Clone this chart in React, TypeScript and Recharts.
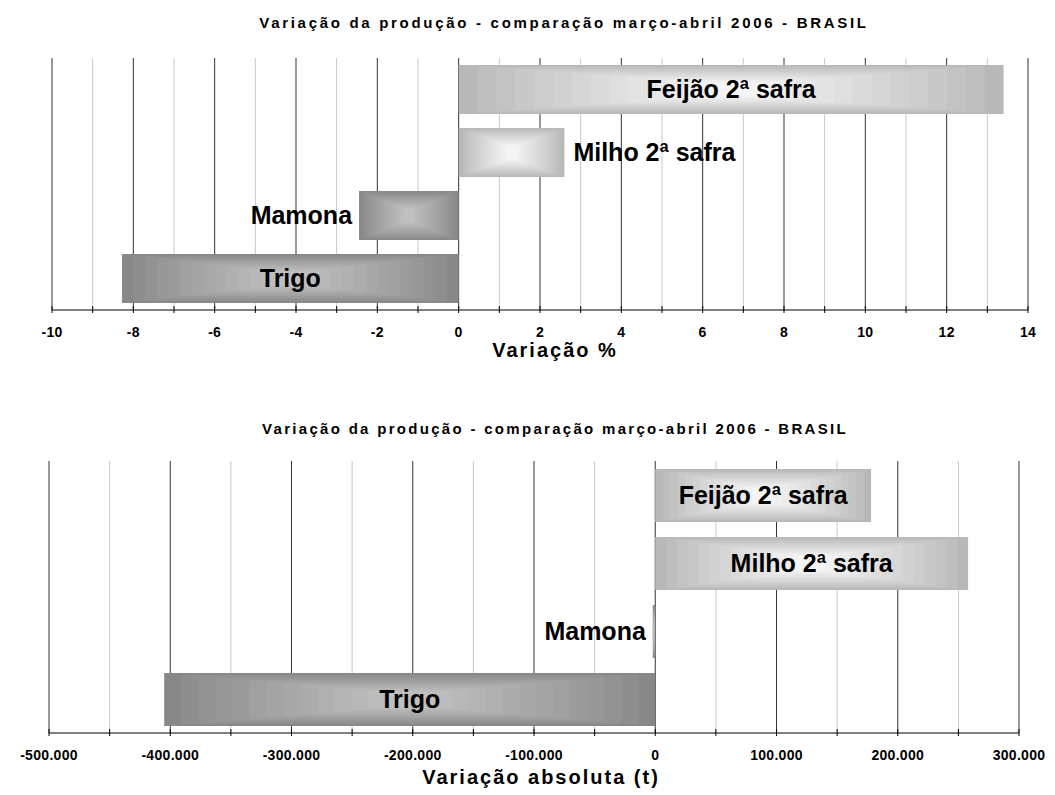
import React from 'react';
import { BarChart, Bar, XAxis, YAxis, ReferenceLine, LabelList } from 'recharts';

const categories = ['Feijão 2ª safra', 'Milho 2ª safra', 'Mamona', 'Trigo'];
const pctValues = [13.4, 2.6, -2.45, -8.28];
const absValues = [178000, 258000, -2000, -405000];

const pctTicks = [-10, -9, -8, -7, -6, -5, -4, -3, -2, -1, 0, 1, 2, 3, 4, 5, 6, 7, 8, 9, 10, 11, 12, 13, 14];
const pctMajor = [-10, -8, -6, -4, -2, 0, 2, 4, 6, 8, 10, 12, 14];
const absTicks = [-500000, -450000, -400000, -350000, -300000, -250000, -200000, -150000, -100000, -50000, 0, 50000, 100000, 150000, 200000, 250000, 300000];
const absMajor = [-500000, -400000, -300000, -200000, -100000, 0, 100000, 200000, 300000];

const title1 = 'Variação da produção - comparação março-abril 2006 - BRASIL';
const title2 = 'Variação da produção - comparação março-abril 2006 - BRASIL';
const axisTitle1 = 'Variação %';
const axisTitle2 = 'Variação absoluta (t)';

const FONT = '"Liberation Sans", Arial, sans-serif';
const LABEL_FONT_SIZE = 25;

let measureCtx: CanvasRenderingContext2D | null = null;
function measureText(text: string, font: string): number {
  if (!measureCtx) {
    const c = document.createElement('canvas');
    measureCtx = c.getContext('2d');
  }
  if (!measureCtx) return text.length * 12;
  measureCtx.font = font;
  return measureCtx.measureText(text).width;
}

function mix(a: number[], b: number[], t: number): string {
  const c = a.map((v, i) => Math.round(v + (b[i] - v) * t));
  return `rgb(${c[0]},${c[1]},${c[2]})`;
}

const GradientBar = (props: any) => {
  const { x, y, width, height, value, payload } = props;
  if (x == null || width == null) return null;
  const left = Math.min(x, x + width);
  const w = Math.abs(width);
  const top = Math.min(y, y + height);
  const h = Math.abs(height);
  const v = payload && typeof payload.value === 'number' ? payload.value : (Array.isArray(value) ? value[1] - value[0] : value);
  const neg = v < 0;
  const edge = neg ? [136, 136, 136] : [184, 184, 184];
  const center = neg ? [192, 192, 192] : [244, 244, 244];
  const N = 14;
  const rects = [];
  for (let i = 0; i < N; i++) {
    const t = i / (N - 1);
    const dx = t * (w / 2) * 0.9;
    const dy = t * (h / 2) * 0.72;
    rects.push(
      <rect key={i} x={left + dx} y={top + dy} width={Math.max(w - 2 * dx, 0)} height={Math.max(h - 2 * dy, 0)} fill={mix(edge, center, Math.pow(t, 0.9))} />
    );
  }
  return <g>{rects}</g>;
};

const makeLabel = (values: number[]) => (props: any) => {
  const vb = props.viewBox || {};
  const x = props.x ?? vb.x;
  const y = props.y ?? vb.y;
  const width = props.width ?? vb.width;
  const height = props.height ?? vb.height;
  const idx = props.index;
  const text = String(props.value);
  if (x == null || width == null) return null;
  const left = Math.min(x, x + width);
  const w = Math.abs(width);
  const top = Math.min(y, y + height);
  const h = Math.abs(height);
  const cy = top + h / 2;
  const tw = measureText(text, `bold ${LABEL_FONT_SIZE}px ${FONT}`);
  const v = values[idx];
  let tx = left + w / 2;
  let anchor: 'middle' | 'start' | 'end' = 'middle';
  if (w < tw + 24) {
    if (v >= 0) {
      tx = left + w + 9;
      anchor = 'start';
    } else {
      tx = left - 7;
      anchor = 'end';
    }
  }
  return (
    <text x={tx} y={cy} dy="0.35em" textAnchor={anchor} fontFamily={FONT} fontWeight="bold" fontSize={LABEL_FONT_SIZE} fill="#000">
      {text}
    </text>
  );
};

const makeTick = (major: number[], fmt: (v: number) => string) => (props: any) => {
  const { x, y, payload } = props;
  const v = payload.value;
  const isMajor = major.indexOf(v) >= 0;
  return (
    <g>
      <line x1={x} x2={x} y1={y - 4} y2={y + 3} stroke="#000" strokeWidth={1} />
      {isMajor && (
        <text x={x} y={y + 22} dy="0.35em" textAnchor="middle" fontFamily={FONT} fontWeight="bold" fontSize={14} letterSpacing={0.3} fill="#000">
          {fmt(v)}
        </text>
      )}
    </g>
  );
};

const fmtPct = (v: number) => String(v);
const fmtAbs = (v: number) => (v === 0 ? '0' : `${v / 1000}.000`);

const data1 = categories.map((name, i) => ({ name, value: pctValues[i] }));
const data2 = categories.map((name, i) => ({ name, value: absValues[i] }));

const textDiv = (text: string, cx: number, cy: number, size: number, spacing: number) => (
  <div
    style={{
      position: 'absolute',
      left: cx - 450,
      width: 900,
      top: cy - size / 2,
      lineHeight: `${size}px`,
      fontSize: size,
      fontWeight: 'bold',
      fontFamily: FONT,
      textAlign: 'center',
      letterSpacing: spacing,
      whiteSpace: 'nowrap',
      color: '#000',
    }}
  >
    {text}
  </div>
);

export default function App() {
  return (
    <div style={{ position: 'absolute', left: 0, top: 0, width: 1055, height: 795, background: '#fff', fontFamily: FONT }}>
      <div style={{ position: 'absolute', left: 0, top: 0 }}>
        <BarChart width={1055} height={400} data={data1} layout="vertical" margin={{ top: 58, right: 27, bottom: 60, left: 52 }}>
          {pctTicks.map((t) => (
            <ReferenceLine key={t} x={t} stroke={t % 2 === 0 ? '#333' : '#c8c8c8'} strokeWidth={1} zIndex={-1} />
          ))}
          <XAxis
            type="number"
            dataKey="value"
            domain={[-10, 14]}
            ticks={pctTicks}
            interval={0}
            height={30}
            tickSize={0}
            tickMargin={0}
            tickLine={false}
            axisLine={{ stroke: '#000' }}
            tick={makeTick(pctMajor, fmtPct)}
            allowDataOverflow
          />
          <YAxis type="category" dataKey="name" hide />
          <Bar dataKey="value" isAnimationActive={false} shape={GradientBar} barSize={49}>
            <LabelList dataKey="name" content={makeLabel(pctValues)} />
          </Bar>
        </BarChart>
      </div>
      <div style={{ position: 'absolute', left: 0, top: 400 }}>
        <BarChart width={1055} height={395} data={data2} layout="vertical" margin={{ top: 61, right: 36, bottom: 32, left: 49 }}>
          {absTicks.map((t) => (
            <ReferenceLine key={t} x={t} stroke={t % 100000 === 0 ? '#333' : '#c8c8c8'} strokeWidth={1} zIndex={-1} />
          ))}
          <XAxis
            type="number"
            dataKey="value"
            domain={[-500000, 300000]}
            ticks={absTicks}
            interval={0}
            height={30}
            tickSize={0}
            tickMargin={0}
            tickLine={false}
            axisLine={{ stroke: '#000' }}
            tick={makeTick(absMajor, fmtAbs)}
            allowDataOverflow
          />
          <YAxis type="category" dataKey="name" hide />
          <Bar dataKey="value" isAnimationActive={false} shape={GradientBar} barSize={53}>
            <LabelList dataKey="name" content={makeLabel(absValues)} />
          </Bar>
        </BarChart>
      </div>
      {textDiv(title1, 564, 22, 15, 2.7)}
      {textDiv(axisTitle1, 555, 350, 20, 2)}
      {textDiv(title2, 555, 428, 15, 2.3)}
      {textDiv(axisTitle2, 541, 777, 20, 2)}
    </div>
  );
}
